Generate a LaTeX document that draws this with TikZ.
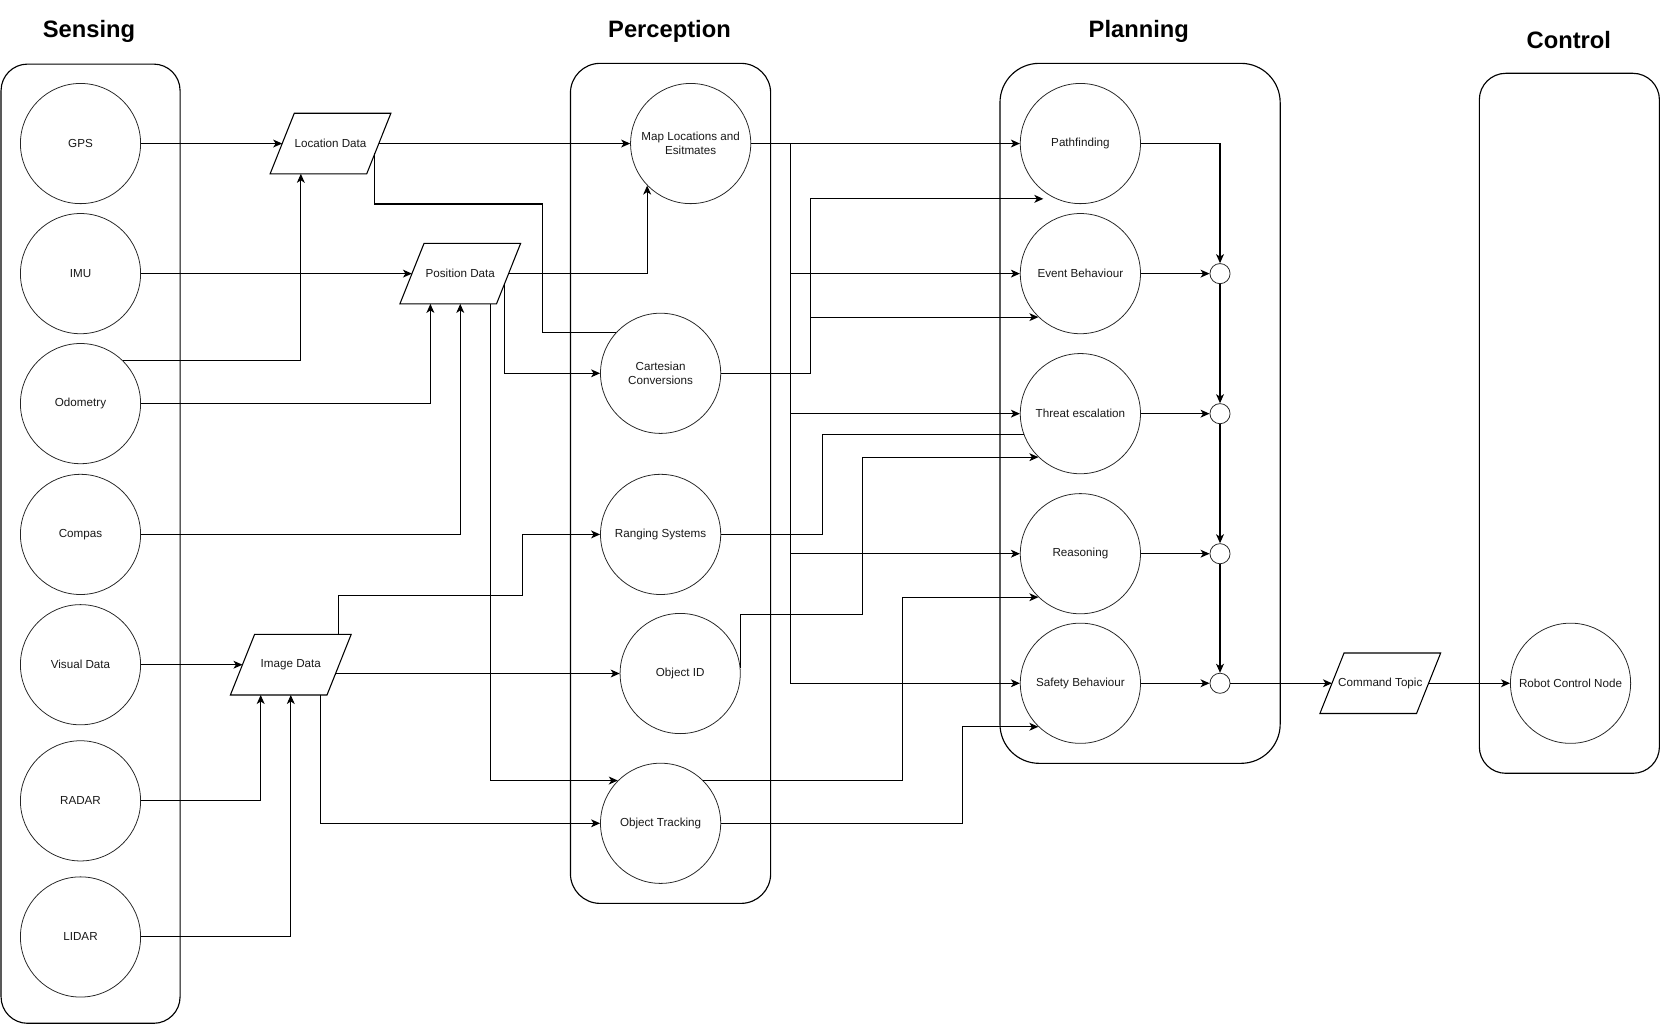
\documentclass[tikz,border=0pt]{standalone}
\usepackage{fontspec}
\setmainfont{Liberation Sans}
\usetikzlibrary{arrows.meta,calc}

\newcommand\lblfont{\fontsize{8.25pt}{9.7pt}\selectfont}
\newcommand\hdfont{\fontsize{16.8pt}{19pt}\selectfont\bfseries}

\tikzset{
  bubble/.style={circle, draw=black!85, line width=0.55pt, minimum size=85.1pt,
    inner sep=0pt, font=\lblfont, text=black!90, align=center},
  dataio/.style={rectangle, minimum width=85.1pt, minimum height=42.45pt,
    inner sep=0pt, font=\lblfont, text=black!90},
  dataline/.style={draw, line width=0.75pt, line join=miter},
  junction/.style={circle, draw=black!85, line width=0.55pt, minimum size=14.25pt, inner sep=0pt},
  lane/.style={draw, line width=0.8pt},
  heading/.style={font=\hdfont, anchor=base},
  wire/.style={line width=0.75pt},
  flow/.style={wire, -{Stealth[length=6.4pt,width=5.6pt,inset=1.8pt]}}
}

% slanted outline of a data topic: corners are kept as named coordinates
\newcommand\dataoutline[1]{%
  \coordinate (#1-tl) at ([shift={(22.8,0)}]#1.north west);
  \coordinate (#1-tr) at (#1.north east);
  \coordinate (#1-br) at ([shift={(-22.8,0)}]#1.south east);
  \coordinate (#1-bl) at (#1.south west);
  \draw[dataline] (#1-tl) -- (#1-tr) -- (#1-br) -- (#1-bl) -- cycle;}

\begin{document}
\begin{tikzpicture}[x=0.75pt,y=-0.75pt]
\useasboundingbox (0,0) rectangle (1568,967);

% ---- swimlanes ----
\draw[lane, rounded corners=25pt*0.75] (1,60.5) rectangle (170,966);
\draw[lane, rounded corners=28pt*0.75] (538.5,59.8) rectangle (727.5,852.8);
\draw[lane, rounded corners=37pt*0.75] (944,59.8) rectangle (1208.5,720.6);
\draw[lane, rounded corners=25pt*0.75] (1396.5,69.2) rectangle (1566.5,730);

\node[heading] (hSens) at (84,35.5) {Sensing};
\node[heading] (hPerc) at (632,35.5) {Perception};
\node[heading] (hPlan) at (1075,35.5) {Planning};
\node[heading] (hCtrl) at (1481,45.5) {Control};

% ---- sensing ----
\node[bubble] (gps) at (76,135.5) {GPS};
\node[bubble] (imu) at (76,258.3) {IMU};
\node[bubble] (odo) at (76,381) {Odometry};
\node[bubble] (cmp) at (76,504.5) {Compas};
\node[bubble] (vis) at (76,627.5) {Visual Data};
\node[bubble] (rad) at (76,756) {RADAR};
\node[bubble] (lid) at (76,884.5) {LIDAR};

% ---- data topics ----
\node[dataio] (loc) at (312,135.5) {Location Data};
\node[dataio] (pos) at (434.5,258.3) {Position Data};
\node[dataio] (img) at (274.5,627.5) {Image Data};
\node[dataio] (cmd) at (1303,645) {Command Topic};
\dataoutline{loc}
\dataoutline{pos}
\dataoutline{img}
\dataoutline{cmd}

% ---- perception ----
\node[bubble] (map) at (652,135.5) {Map Locations and\\Esitmates};
\node[bubble] (cart) at (623.6,352.4) {Cartesian\\Conversions};
\node[bubble] (rng) at (623.6,504.5) {Ranging Systems};
\node[bubble] (oid) at (642.1,635.8) {Object ID};
\node[bubble] (otr) at (623.6,777.2) {Object Tracking};

% ---- planning ----
\node[bubble] (pf)  at (1019.9,135.5) {Pathfinding};
\node[bubble] (evt) at (1019.9,258.3) {Event Behaviour};
\node[bubble] (thr) at (1019.9,390.5) {Threat escalation};
\node[bubble] (rsn) at (1019.9,522.7) {Reasoning};
\node[bubble] (sfy) at (1019.9,645) {Safety Behaviour};

\node[junction] (j1) at (1151.7,258.3) {};
\node[junction] (j2) at (1151.7,390.5) {};
\node[junction] (j3) at (1151.7,522.7) {};
\node[junction] (j4) at (1151.7,645) {};

% ---- control ----
\node[bubble] (rcn) at (1482.6,645) {Robot Control Node};

% ---- sensing -> topics ----
\draw[flow] (gps.east) -- ([shift={(11.4,0)}]loc.west);
\draw[flow] (imu.east) -- ([shift={(11.4,0)}]pos.west);
\draw[flow] (odo.46) -| ([shift={(-28,0)}]loc.south);
\draw[flow] (odo.east) -| ([shift={(-28.2,0)}]pos.south);
\draw[flow] (cmp.east) -| (pos.south);
\draw[flow] (vis.east) -- ([shift={(11.4,0)}]img.west);
\draw[flow] (rad.east) -| ([shift={(-28.4,0)}]img.south);
\draw[flow] (lid.east) -| (img.south);

% ---- topics -> perception ----
\draw[flow] ([shift={(-11.4,0)}]loc.east) -- (map.west);
\draw[wire] ($(loc-tr)!0.66!(loc-br)$) |- (512.1,192.6) |- (cart.137);
\draw[flow] ([shift={(-11.4,0)}]pos.east) -| (map.224.6);
\draw[flow] ($(pos-tr)!0.669!(pos-br)$) |- (cart.west);
\draw[flow] ([shift={(28.4,0)}]pos.south) |- (otr.135);
\draw[flow] ([shift={(44.8,0)}]img.north) |- (493.3,561.9) |- (rng.west);
\draw[flow] ($(img-tr)!0.647!(img-br)$) |- (oid.west);
\draw[flow] ([shift={(28.3,0)}]img.south) |- (otr.west);

% ---- perception -> planning ----
\draw[flow] (map.east) -- (pf.west);
\draw[flow] (map.east -| 745.8,0) |- (sfy.west);
\draw[flow] (745.8,0 |- evt.west) -- (evt.west);
\draw[flow] (745.8,0 |- thr.west) -- (thr.west);
\draw[flow] (745.8,0 |- rsn.west) -- (rsn.west);

\coordinate (pfin) at ([shift={(-35,52.2)}]pf.center);
\draw[flow] (cart.east) -| (765,0 |- pfin) -- (pfin);
\draw[flow] (765,0 |- evt.226) -- (evt.226);

\draw[wire] (rng.east) -| (776.1,0 |- thr.200.5) -- (thr.200.5);
\draw[flow] (oid.5) |- (814.2,580) |- (thr.226.5);
\draw[flow] (otr.45) -| (852,0 |- rsn.226) -- (rsn.226);
\draw[flow] (otr.east) -| (908.6,0 |- sfy.226) -- (sfy.226);

% ---- planning merge ----
\draw[flow] (pf.east) -| (j1.north);
\draw[flow] (evt.east) -- (j1.west);
\draw[flow] (j1.south) -- (j2.north);
\draw[flow] (thr.east) -- (j2.west);
\draw[flow] (j2.south) -- (j3.north);
\draw[flow] (rsn.east) -- (j3.west);
\draw[flow] (j3.south) -- (j4.north);
\draw[flow] (sfy.east) -- (j4.west);

% ---- planning -> control ----
\draw[flow] (j4.east) -- ([shift={(11.4,0)}]cmd.west);
\draw[flow] ([shift={(-11.4,0)}]cmd.east) -- (rcn.west);
\end{tikzpicture}
\end{document}
